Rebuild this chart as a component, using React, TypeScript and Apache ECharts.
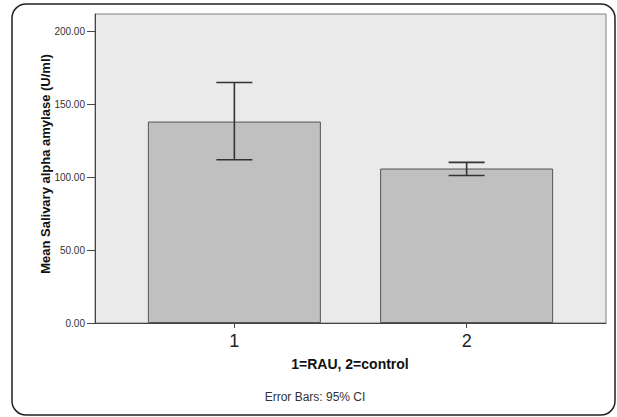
import React, { useEffect, useRef } from "react";
import * as echarts from "echarts";

const groups = [1, 2];
const groupLabels = ["1", "2"];
const means = [138.2, 106.0];
const ciLow = [112.0, 101.2];
const ciHigh = [165.0, 110.2];
const yTicks = [0, 50, 100, 150, 200];

export default function App() {
  const ref = useRef<HTMLDivElement>(null);
  useEffect(() => {
    if (!ref.current) return;
    const chart = echarts.init(ref.current, null, { renderer: "svg" });
    const font = "'Liberation Sans', Arial, sans-serif";
    chart.setOption({
      animation: false,
      backgroundColor: "#ffffff",
      grid: {
        left: 95,
        top: 14,
        width: 511,
        height: 309,
        show: true,
        backgroundColor: "#eaeaea",
        borderColor: "#808080",
        borderWidth: 1,
      },
      xAxis: {
        type: "value",
        min: 0.4,
        max: 2.6,
        splitLine: { show: false },
        axisLine: { show: true, lineStyle: { color: "#444", width: 1 } },
        axisTick: { show: true, length: 5, customValues: groups, lineStyle: { color: "#444" } },
        axisLabel: {
          customValues: groups,
          formatter: (v: number) => groupLabels[groups.indexOf(Math.round(v))] ?? "",
          fontFamily: font,
          fontSize: 18,
          color: "#222",
          margin: 9,
        },
      },
      yAxis: {
        type: "value",
        min: 0,
        max: 212,
        splitLine: { show: false },
        axisLine: { show: true, lineStyle: { color: "#444", width: 1 } },
        axisTick: { show: true, length: 8, customValues: yTicks, lineStyle: { color: "#444" } },
        axisLabel: {
          customValues: yTicks,
          formatter: (v: number) => v.toFixed(2),
          fontFamily: font,
          fontSize: 10,
          color: "#333",
          margin: 10,
        },
      },
      series: [
        {
          type: "bar",
          data: groups.map((g, i) => [g, means[i]]),
          barWidth: 173,
          itemStyle: { color: "#c0c0c0", borderColor: "#555", borderWidth: 1 },
          z: 2,
        },
        {
          type: "custom",
          data: groups.map((g, i) => [g, ciLow[i], ciHigh[i]]),
          z: 5,
          renderItem: (params: any, api: any) => {
            const x = api.value(0);
            const lo = api.coord([x, api.value(1)]);
            const hi = api.coord([x, api.value(2)]);
            const half = 18;
            const style = { stroke: "#333", lineWidth: 1.6 };
            return {
              type: "group",
              children: [
                { type: "line", shape: { x1: lo[0], y1: lo[1], x2: hi[0], y2: hi[1] }, style },
                { type: "line", shape: { x1: hi[0] - half, y1: hi[1], x2: hi[0] + half, y2: hi[1] }, style },
                { type: "line", shape: { x1: lo[0] - half, y1: lo[1], x2: lo[0] + half, y2: lo[1] }, style },
              ],
            };
          },
        },
      ],
      graphic: [
        {
          type: "rect",
          shape: { x: 12, y: 4, width: 603, height: 411, r: 14 },
          style: { fill: "none", stroke: "#222", lineWidth: 1.5 },
          z: 10,
        },
        {
          type: "text",
          x: 45,
          y: 164,
          rotation: Math.PI / 2,
          style: {
            text: "Mean Salivary alpha amylase (U/ml)",
            font: `bold 13px ${font}`,
            fill: "#111",
            align: "center",
            verticalAlign: "middle",
          },
        },
        {
          type: "text",
          x: 350,
          y: 364,
          style: {
            text: "1=RAU, 2=control",
            font: `bold 14px ${font}`,
            fill: "#111",
            align: "center",
            verticalAlign: "middle",
          },
        },
        {
          type: "text",
          x: 315,
          y: 397,
          style: {
            text: "Error Bars: 95% CI",
            font: `12px ${font}`,
            fill: "#333",
            align: "center",
            verticalAlign: "middle",
          },
        },
      ],
    });
    return () => chart.dispose();
  }, []);
  return (
    <div
      ref={ref}
      style={{ position: "fixed", left: 0, top: 0, width: 617, height: 417 }}
    />
  );
}
